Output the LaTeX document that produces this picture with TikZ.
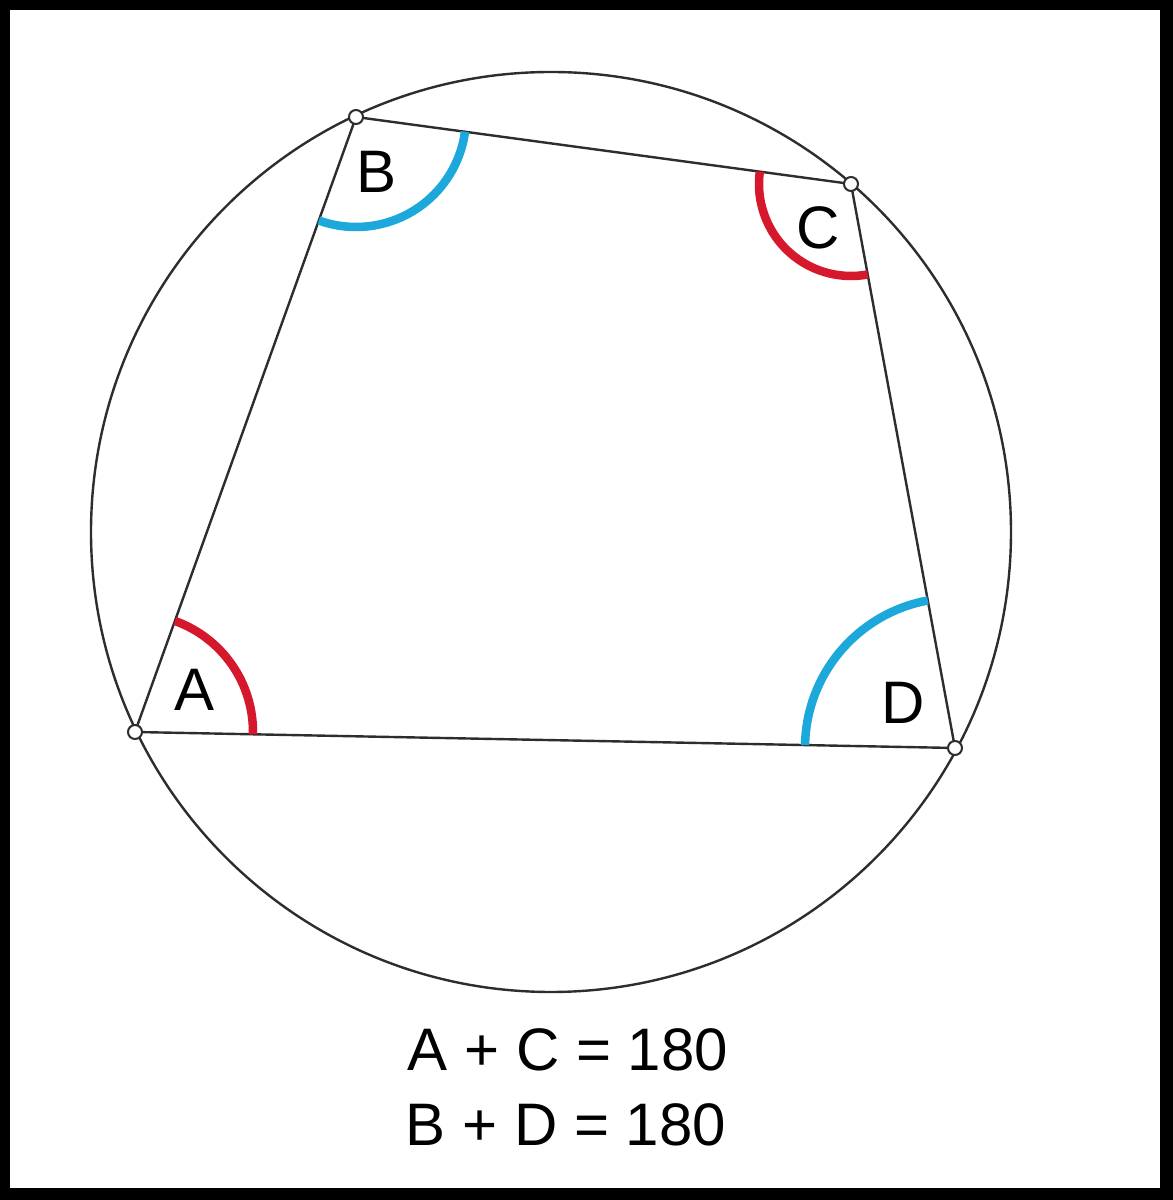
\documentclass[tikz,border=0pt]{standalone}
\usepackage{fontspec}
\setmainfont{Liberation Sans}
\usetikzlibrary{angles}
\definecolor{arcred}{RGB}{214,24,44}
\definecolor{arcblue}{RGB}{28,168,218}
\definecolor{edgegray}{RGB}{45,45,45}

\begin{document}
\begin{tikzpicture}[x=1pt, y=1pt,
        edge/.style={draw=edgegray, line width=2.4pt},
        vtx/.style={circle, draw=edgegray, fill=white, line width=2pt, inner sep=0pt, minimum size=14pt},
        redarc/.style={draw=arcred, line width=8.5pt},
        bluearc/.style={draw=arcblue, line width=8.5pt},
        letter/.style={font=\fontsize{60}{72}\selectfont}]
        % frame
        \fill[black] (0, 0) rectangle (1173, 1200);
        \fill[white] (10, 12) rectangle (1160, 1190);
        \useasboundingbox (0, 0) rectangle (1173, 1200);

        \coordinate (O) at (551, 668);
        \coordinate (A) at (135, 468);
        \coordinate (B) at (356, 1083);
        \coordinate (C) at (851, 1016);
        \coordinate (D) at (955, 452);

        \draw[edge] (O) circle[radius=460];
        \draw[edge] (A) -- (B) -- (C) -- (D) -- cycle;

        % angle marks
        \pic[redarc, angle radius=118] {angle=D--A--B};
        \pic[bluearc, angle radius=110] {angle=A--B--C};
        \pic[redarc, angle radius=92] {angle=B--C--D};
        \pic[bluearc, angle radius=150] {angle=C--D--A};

        \node[vtx] at (A) {};
        \node[vtx] at (B) {};
        \node[vtx] at (C) {};
        \node[vtx] at (D) {};

        \node[letter] (labA) at (195, 510) {A};
        \node[letter] (labB) at (377, 1028) {B};
        \node[letter] (labC) at (818, 972) {C};
        \node[letter] (labD) at (903, 497) {D};

        \node[letter] (sumAC) at (568, 150) {A + C = 180};
        \node[letter] (sumBD) at (566, 75) {B + D = 180};
    \end{tikzpicture}
\end{document}
